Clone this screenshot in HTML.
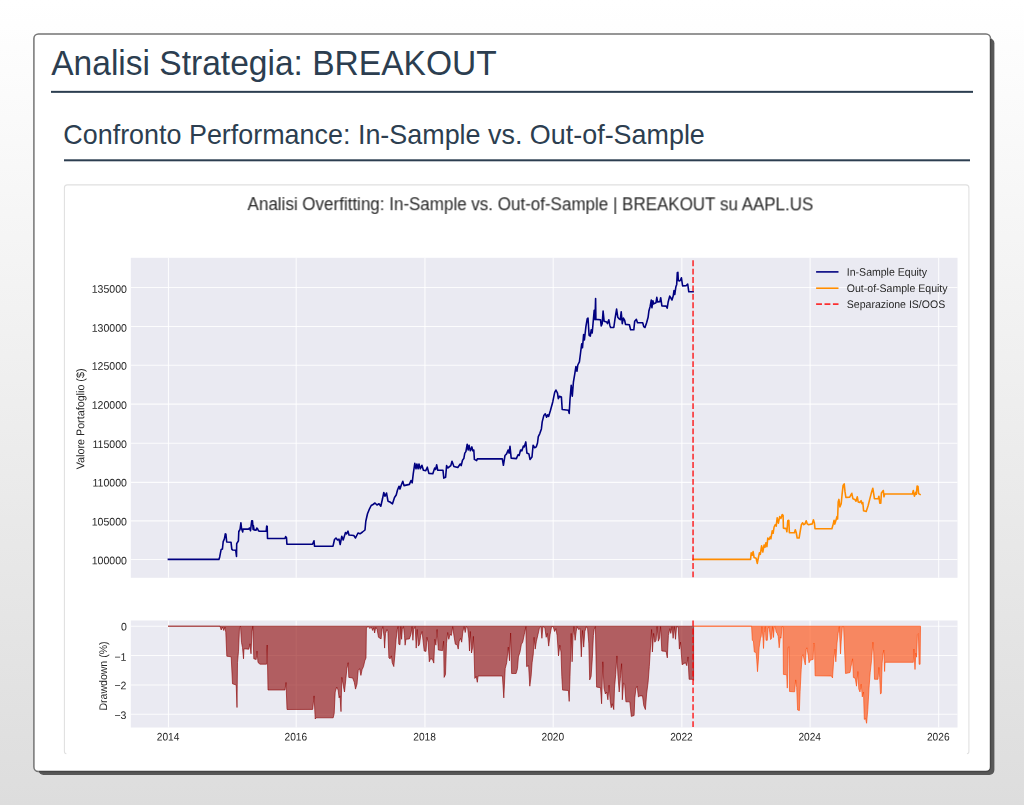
<!DOCTYPE html>
<html lang="it"><head><meta charset="utf-8"><title>Analisi Strategia: BREAKOUT</title>
<style>
html,body{margin:0;padding:0}
body{width:1024px;height:805px;overflow:hidden;position:relative;font-family:"Liberation Sans",sans-serif;background:linear-gradient(to bottom,#ffffff 0%,#dddddd 100%);color:#2c3e50}
h1{position:absolute;left:51.2px;top:43px;margin:0;font-weight:normal;font-size:33.55px;line-height:40px;white-space:nowrap;color:#2c3e50;transform-origin:0 31.5px;transform:translateY(0.9px) scaleY(1.042)}
.r1{position:absolute;left:51px;top:91px;width:922px;height:2px;background:#2c3e50}
h2{position:absolute;left:63.3px;top:118px;margin:0;font-weight:normal;font-size:26.91px;line-height:32px;white-space:nowrap;color:#2c3e50;transform-origin:0 25px;transform:translateY(0.7px) scaleY(1.042)}
.r2{position:absolute;left:64px;top:159px;width:906px;height:2px;background:#2c3e50}
</style></head><body>
<svg width="1024" height="805" viewBox="0 0 1024 805" style="position:absolute;left:0;top:0">
<defs><filter id="sb" x="-5%" y="-5%" width="110%" height="110%"><feGaussianBlur stdDeviation="0.35"/></filter></defs>
<rect x="38.5" y="38.2" width="955.9" height="736.8" rx="5" fill="#585858" filter="url(#sb)"/>
<rect x="33.9" y="34.0" width="956.6" height="737.5" rx="4.5" fill="#fff"/>
<path d="M990.5,38.5 L990.5,767.0 A4.5 4.5 0 0 1 986.0,771.5 L38.4,771.5" fill="none" stroke="#454545" stroke-width="1.4"/>
<path d="M38.4,771.5 A4.5 4.5 0 0 1 33.9,767.0 L33.9,38.5 A4.5 4.5 0 0 1 38.4,34.0 L986.0,34.0 A4.5 4.5 0 0 1 990.5,38.5" fill="none" stroke="#747474" stroke-width="1.5"/>
<path d="M66.4,753.8 Q64.4,753.8 64.4,751.3 L64.4,187.9 Q64.4,184.9 67.4,184.9 L965.9,184.9 Q968.9,184.9 968.9,187.9 L968.9,751.3 Q968.9,753.8 966.9,753.8" fill="none" stroke="#e0e0e0" stroke-width="1.1"/>
<rect x="51" y="90.85" width="922" height="2" fill="#2c3e50"/><rect x="64" y="159.3" width="906" height="2" fill="#2c3e50"/>
</svg>
<h1>Analisi Strategia: BREAKOUT</h1>
<h2>Confronto Performance: In-Sample vs. Out-of-Sample</h2>
<svg width="1024" height="805" viewBox="0 0 1024 805" style="position:absolute;left:0;top:0;filter:blur(0.3px)" font-family="Liberation Sans, sans-serif">
<rect x="130.8" y="257.8" width="826.7" height="319.99999999999994" fill="#eaeaf2"/>
<rect x="130.8" y="620.5" width="826.7" height="107.0" fill="#eaeaf2"/>
<g stroke="#fff" stroke-width="1.1" stroke-opacity="0.85" fill="none">
<line x1="168.45" y1="257.8" x2="168.45" y2="577.8"/><line x1="168.45" y1="620.5" x2="168.45" y2="727.5"/>
<line x1="296.20" y1="257.8" x2="296.20" y2="577.8"/><line x1="296.20" y1="620.5" x2="296.20" y2="727.5"/>
<line x1="424.95" y1="257.8" x2="424.95" y2="577.8"/><line x1="424.95" y1="620.5" x2="424.95" y2="727.5"/>
<line x1="553.20" y1="257.8" x2="553.20" y2="577.8"/><line x1="553.20" y1="620.5" x2="553.20" y2="727.5"/>
<line x1="681.85" y1="257.8" x2="681.85" y2="577.8"/><line x1="681.85" y1="620.5" x2="681.85" y2="727.5"/>
<line x1="810.10" y1="257.8" x2="810.10" y2="577.8"/><line x1="810.10" y1="620.5" x2="810.10" y2="727.5"/>
<line x1="938.65" y1="257.8" x2="938.65" y2="577.8"/><line x1="938.65" y1="620.5" x2="938.65" y2="727.5"/>
<line x1="130.8" y1="559.50" x2="957.5" y2="559.50"/>
<line x1="130.8" y1="520.85" x2="957.5" y2="520.85"/>
<line x1="130.8" y1="482.35" x2="957.5" y2="482.35"/>
<line x1="130.8" y1="443.20" x2="957.5" y2="443.20"/>
<line x1="130.8" y1="404.15" x2="957.5" y2="404.15"/>
<line x1="130.8" y1="365.30" x2="957.5" y2="365.30"/>
<line x1="130.8" y1="326.50" x2="957.5" y2="326.50"/>
<line x1="130.8" y1="287.45" x2="957.5" y2="287.45"/>
<line x1="130.8" y1="626.25" x2="957.5" y2="626.25"/>
<line x1="130.8" y1="655.50" x2="957.5" y2="655.50"/>
<line x1="130.8" y1="685.00" x2="957.5" y2="685.00"/>
<line x1="130.8" y1="714.20" x2="957.5" y2="714.20"/>
</g>
<polygon points="168.0,626.2 220.0,626.2 221.2,630.0 222.5,627.0 223.8,630.5 225.0,627.0 225.8,632.5 226.8,656.2 231.2,656.8 232.5,683.8 236.2,685.0 237.0,707.5 237.5,662.5 238.5,651.2 239.5,627.5 240.5,626.2 241.5,642.5 242.5,647.5 243.5,658.8 244.0,648.8 248.8,649.2 250.0,643.8 251.0,653.8 252.0,631.2 252.8,626.2 253.8,658.8 256.2,659.5 257.0,651.2 258.0,662.5 260.0,664.2 266.5,664.2 267.2,645.0 268.0,690.0 285.0,690.0 286.0,682.5 287.0,709.5 312.7,709.4 314.1,695.9 315.2,719.0 316.0,717.8 333.2,717.8 334.2,713.5 335.2,692.0 336.7,687.1 338.1,690.1 339.1,697.9 340.0,695.9 341.0,711.6 341.8,677.4 343.4,686.2 344.5,692.0 345.9,678.4 346.9,668.6 348.2,662.7 348.8,677.4 352.7,678.0 354.3,682.3 355.5,689.1 357.0,684.2 358.2,670.5 359.6,668.6 360.9,675.4 362.1,669.6 363.5,666.6 364.8,660.8 366.0,657.9 366.4,627.6 368.4,626.6 369.9,628.6 371.3,627.2 372.7,630.5 373.8,627.6 374.6,633.0 375.8,627.2 377.1,629.5 378.5,637.3 381.1,638.9 382.0,629.5 382.8,626.6 384.0,636.4 384.6,648.1 385.5,633.4 386.9,629.5 387.9,631.5 388.9,657.9 390.2,658.8 391.4,655.9 392.2,662.7 393.8,666.6 394.9,654.9 396.1,639.3 397.3,629.5 398.0,626.6 398.8,644.2 400.0,644.8 400.8,626.6 401.6,639.3 402.3,629.5 403.5,626.6 404.5,635.4 405.1,645.2 405.9,639.3 409.4,638.9 410.9,634.4 412.1,626.6 412.9,640.3 413.7,629.5 415.2,626.6 416.2,648.1 417.2,629.5 418.4,646.1 419.5,644.2 420.7,635.4 422.1,631.5 423.0,640.3 424.2,651.0 426.0,651.4 427.0,637.3 428.1,642.2 429.3,661.8 430.5,658.8 432.4,659.2 433.8,663.1 434.8,639.3 435.9,645.2 437.1,629.5 438.3,650.0 442.6,650.6 443.6,641.2 444.1,677.4 445.5,674.5 446.5,643.2 447.7,632.5 448.8,639.3 450.0,634.4 451.4,635.4 452.7,626.6 453.9,635.4 455.3,644.2 457.2,644.8 458.2,649.1 459.2,641.2 460.5,638.3 461.7,642.2 462.9,631.5 464.1,626.6 465.2,632.5 466.4,626.6 467.6,627.6 468.8,638.3 469.5,651.0 470.3,631.5 471.5,653.0 472.7,647.1 473.4,636.4 474.2,656.9 474.8,678.4 476.2,676.4 477.3,682.3 478.1,676.0 502.4,676.0 503.8,697.9 505.2,668.6 506.7,662.7 508.3,647.1 509.5,660.8 510.6,633.0 511.6,673.5 516.1,673.5 517.5,668.6 518.4,656.9 520.0,652.0 521.4,644.2 522.7,642.2 524.3,634.4 525.9,626.6 526.6,666.6 528.6,665.7 529.8,686.2 531.1,676.4 532.1,662.7 533.3,653.9 534.1,637.3 535.2,649.1 536.4,641.2 538.0,634.4 539.5,627.6 540.9,626.6 541.9,638.3 542.9,626.6 544.8,627.6 546.2,637.3 547.3,633.4 548.7,646.1 550.1,634.4 551.6,626.6 553.2,626.6 554.6,631.5 555.9,628.6 557.1,635.4 558.5,655.9 559.8,645.2 561.0,652.0 561.8,676.4 562.6,690.1 568.4,690.5 569.2,701.4 570.0,676.4 571.2,633.4 572.1,661.8 573.1,635.4 573.9,626.6 575.1,640.3 576.2,631.5 577.0,626.6 578.6,629.5 580.2,628.6 581.3,656.9 582.5,630.5 583.7,647.1 584.8,631.5 586.4,626.6 587.6,628.6 588.8,643.2 589.7,679.9 591.1,676.4 592.3,658.8 593.4,635.4 594.2,629.5 595.4,626.6 596.0,656.9 596.6,687.1 600.5,687.7 601.6,703.8 602.8,661.8 604.0,688.1 605.4,694.0 606.7,692.0 607.9,699.8 609.1,685.2 610.2,700.8 611.2,707.7 612.2,703.8 613.8,709.6 614.5,688.1 615.7,674.5 616.9,655.9 618.0,676.4 619.2,692.0 620.4,678.4 621.6,663.7 622.3,699.8 623.5,683.2 624.7,684.2 625.9,701.8 629.8,701.8 631.3,716.4 634.1,715.5 634.8,697.9 636.0,688.1 637.2,686.2 638.4,696.9 639.9,695.9 642.5,695.9 643.8,705.7 645.4,709.6 646.6,694.0 648.1,682.3 649.3,666.6 650.5,647.1 651.6,629.5 652.4,652.0 653.6,633.4 654.8,642.2 656.1,640.3 657.1,626.6 658.3,641.2 659.5,638.3 660.6,626.6 661.8,651.0 666.1,651.4 667.3,657.9 668.4,635.4 669.8,628.6 670.8,633.4 672.0,626.6 673.1,638.3 674.3,626.6 675.5,639.3 676.6,626.6 678.2,627.2 679.4,649.1 680.5,642.2 682.1,664.7 685.4,662.7 686.8,665.7 688.0,656.9 689.1,679.3 692.3,679.3 693.6,680.3 693.6,626.2" fill="#8b0000" fill-opacity="0.6" stroke="#8b0000" stroke-opacity="0.6" stroke-width="1.0" stroke-linejoin="round"/>
<polygon points="693.8,626.2 751.4,626.2 751.6,626.2 752.3,640.3 753.4,641.0 754.3,651.9 756.1,652.6 756.7,659.4 757.5,671.7 758.4,660.0 759.1,647.8 760.5,638.2 761.2,636.2 761.9,626.6 763.0,638.2 763.5,648.5 764.3,632.8 765.3,626.6 766.0,640.3 767.3,640.3 768.0,628.7 769.0,626.6 769.8,632.8 770.6,639.6 771.7,638.2 772.5,626.6 773.5,637.5 774.2,627.3 775.2,626.6 776.2,632.0 777.2,633.4 778.2,636.2 779.2,647.8 780.3,636.9 781.0,638.2 782.1,626.6 783.0,626.6 783.4,674.4 786.7,674.8 787.3,688.1 788.1,647.8 788.9,646.7 789.5,691.5 794.6,691.8 795.7,679.9 796.7,687.4 797.6,710.0 799.4,710.6 800.1,691.5 801.2,669.6 802.2,656.0 803.1,654.6 804.2,660.1 805.3,664.9 806.2,649.2 806.9,647.8 808.3,656.0 809.0,662.8 810.4,660.1 813.1,659.4 813.8,643.0 814.5,644.4 815.1,675.8 831.5,676.0 832.5,678.0 833.8,658.8 835.0,649.1 835.8,661.8 837.0,643.2 838.1,633.4 839.3,626.6 840.5,653.9 841.2,641.2 842.4,626.6 843.6,626.6 844.8,654.9 845.5,673.5 850.0,672.5 851.0,666.6 852.6,658.8 853.4,677.4 855.3,678.4 856.5,686.2 857.9,671.5 858.8,689.1 860.0,692.0 861.2,684.2 862.3,696.9 863.5,692.0 864.3,719.4 865.5,718.4 866.6,723.3 867.8,709.6 869.0,688.1 870.2,672.5 871.5,660.8 872.9,642.2 873.7,652.0 874.5,679.3 878.0,679.3 878.9,667.4 879.7,677.7 880.5,694.1 881.3,693.0 882.1,663.3 883.0,654.1 883.8,650.0 884.6,671.5 885.0,662.3 913.3,662.3 913.9,649.0 915.0,669.5 915.8,653.1 916.6,657.2 917.4,634.6 918.4,633.6 919.1,664.3 920.1,664.3 920.5,626.2" fill="#ff4500" fill-opacity="0.6" stroke="#ff4500" stroke-opacity="0.6" stroke-width="1.0" stroke-linejoin="round"/>
<polyline points="168.4,559.4 218.9,559.4 219.7,556.9 220.9,550.6 221.2,549.5 222.4,549.1 223.2,541.6 224.4,538.9 225.3,533.8 225.9,534.2 226.7,542.0 231.0,542.2 231.8,549.1 232.6,550.0 235.7,550.2 236.5,556.5 236.7,543.6 237.7,542.0 238.4,540.9 238.8,531.5 240.0,529.5 240.9,522.9 241.6,528.8 242.7,531.9 243.1,529.1 248.6,529.1 249.4,528.0 250.5,530.7 251.7,520.9 252.5,520.9 253.1,529.5 253.4,525.6 254.1,529.9 256.0,530.3 256.8,528.0 257.6,528.8 258.4,530.7 259.5,531.2 266.2,531.2 266.7,526.0 267.2,526.4 267.5,538.5 284.9,538.5 285.7,536.6 286.5,537.7 286.9,544.1 312.5,544.2 314.0,540.8 314.5,546.2 333.0,546.2 334.5,539.5 336.0,538.0 337.5,540.0 339.0,539.2 340.2,544.5 341.8,536.2 343.2,540.0 345.5,532.5 346.5,533.8 348.0,531.2 349.0,535.0 353.8,535.5 355.5,538.0 358.0,533.0 360.0,533.8 362.5,532.0 365.0,530.0 365.8,521.2 367.5,513.8 369.5,508.8 371.2,505.5 373.0,504.5 375.0,503.0 377.0,505.0 379.0,503.8 380.8,506.2 382.5,498.8 383.8,492.5 385.0,496.2 386.5,493.0 388.0,501.2 390.0,502.0 392.5,503.8 394.5,497.5 396.2,495.0 397.5,490.0 399.0,486.2 400.0,489.1 401.2,485.2 402.8,481.2 404.0,485.6 409.4,484.4 411.0,480.5 412.2,482.8 413.3,473.4 414.8,463.3 416.0,468.8 416.9,464.0 418.1,468.8 419.0,464.0 420.3,468.8 421.9,465.3 423.4,470.3 425.8,470.6 427.3,467.2 428.9,473.4 432.8,473.8 434.7,468.0 435.6,469.5 436.7,464.8 437.8,470.3 443.0,470.3 443.8,478.1 445.6,477.3 446.6,465.6 447.7,468.0 450.8,465.6 452.0,461.2 453.9,466.4 457.8,467.5 460.2,464.0 461.2,465.6 462.5,460.2 463.8,458.6 464.8,453.1 465.9,451.6 467.2,444.2 468.1,450.0 469.1,445.3 470.3,450.8 471.9,446.9 472.7,450.8 473.8,450.0 474.4,459.4 476.6,460.6 477.3,458.9 502.3,458.9 503.4,465.3 505.0,455.5 506.6,453.9 508.1,450.0 509.1,453.1 510.0,446.4 511.2,458.1 516.4,458.6 518.0,454.7 519.1,455.5 520.6,450.0 521.9,450.8 523.4,446.1 524.2,446.9 525.8,441.9 526.9,453.1 528.9,453.9 530.0,459.4 532.0,457.0 533.1,445.3 534.7,447.7 536.2,446.9 537.5,443.0 538.3,436.7 539.8,433.6 541.4,428.9 542.2,421.9 543.8,415.6 545.3,413.8 546.6,417.2 547.7,414.8 548.6,416.5 550.5,410.3 552.8,401.7 554.7,392.3 555.9,390.0 557.5,393.1 558.3,398.6 559.4,396.2 561.4,397.0 562.2,409.5 568.4,410.3 569.2,413.4 570.0,399.4 571.2,385.3 572.3,396.2 573.4,382.2 574.7,374.4 575.9,366.6 577.0,371.2 577.8,365.0 579.4,361.9 580.6,352.5 581.7,343.9 582.5,347.8 583.6,334.5 584.4,340.0 585.9,326.7 587.2,318.9 588.0,318.1 589.1,335.3 590.3,336.1 591.2,329.8 592.2,333.0 593.1,322.8 594.2,310.3 595.0,319.7 595.6,298.6 595.9,319.4 600.5,319.7 601.2,325.9 602.2,323.6 603.1,311.1 604.1,321.2 606.7,322.0 607.5,323.6 608.8,319.7 609.8,325.2 610.6,327.5 613.8,327.5 615.0,318.9 616.6,309.1 617.8,317.3 619.2,318.9 620.3,319.7 621.2,311.9 622.3,323.6 623.4,318.1 624.7,320.5 625.5,324.4 629.4,324.7 630.6,329.8 633.8,329.8 634.7,321.2 636.4,319.4 637.5,322.8 642.7,322.8 643.8,326.7 645.0,327.5 646.6,322.8 648.1,317.3 648.9,311.0 650.2,306.2 651.3,300.0 651.9,307.8 652.9,300.8 653.7,303.9 656.0,302.7 656.8,297.3 657.6,302.0 659.9,301.6 660.7,297.7 661.9,305.9 666.2,306.1 667.2,308.2 668.1,302.3 668.9,299.2 669.7,296.1 670.9,298.0 672.0,300.0 673.2,296.1 674.0,290.6 674.8,294.5 675.9,286.7 676.7,284.4 677.3,272.7 677.9,272.3 678.3,280.5 679.5,280.9 680.2,280.5 681.4,277.7 682.6,285.9 686.1,285.8 687.7,284.0 688.8,291.8 693.1,291.8" fill="none" stroke="#000080" stroke-width="1.59" stroke-linejoin="round" stroke-linecap="square"/>
<polyline points="693.1,559.4 750.6,559.4 751.2,552.8 752.2,555.2 753.1,551.6 754.1,557.5 756.1,558.3 757.3,563.4 758.4,557.5 759.4,552.8 760.3,554.4 761.6,545.8 762.8,552.0 764.1,545.0 765.0,547.3 765.9,542.7 766.9,546.6 767.8,538.0 769.1,539.5 770.2,536.9 770.9,538.8 772.2,530.9 773.1,533.3 774.1,527.0 775.3,524.7 776.2,526.2 777.2,517.7 778.4,523.1 779.7,516.6 780.9,518.4 782.2,514.5 783.1,515.3 783.4,528.1 786.2,528.6 786.9,531.7 787.8,520.8 788.8,520.3 789.4,532.8 794.4,532.8 795.3,529.7 796.2,532.5 797.2,538.0 799.1,538.0 800.3,530.9 801.4,524.7 802.5,522.8 803.8,524.7 805.0,523.9 806.2,520.8 807.3,523.9 808.4,524.7 812.3,523.9 813.4,519.7 814.4,523.1 815.0,528.6 831.9,528.8 833.2,524.1 834.1,520.3 834.8,524.1 836.1,519.7 837.0,516.5 837.6,519.0 838.2,501.9 838.9,499.4 839.9,507.0 841.2,503.8 842.1,494.3 843.1,485.4 844.2,483.9 845.0,491.7 845.9,497.5 849.7,497.1 850.9,494.9 851.8,493.3 852.9,498.7 854.8,499.4 856.0,501.2 857.3,496.8 858.2,501.9 859.8,502.5 861.1,500.6 862.0,503.8 862.8,502.5 863.6,510.8 866.2,511.4 868.1,505.7 870.0,498.1 871.2,493.6 872.8,488.2 873.8,494.3 874.4,498.7 878.2,498.7 878.9,496.2 879.8,503.2 880.8,503.2 881.4,493.0 883.3,490.5 884.0,496.8 884.6,494.0 912.5,494.0 913.3,490.5 914.4,496.2 915.7,492.4 916.3,494.3 917.1,486.0 918.0,486.4 918.6,493.6 920.1,494.5" fill="none" stroke="#ff8c00" stroke-width="1.59" stroke-linejoin="round" stroke-linecap="square"/>
<line x1="693.06" y1="577.8" x2="693.06" y2="257.8" stroke="#ff0000" stroke-opacity="0.8" stroke-width="1.59" stroke-dasharray="5.87 2.54" stroke-dashoffset="-0.5"/>
<line x1="693.06" y1="727.5" x2="693.06" y2="620.5" stroke="#ff0000" stroke-opacity="0.8" stroke-width="1.59" stroke-dasharray="5.87 2.54" stroke-dashoffset="-0.5"/>
<line x1="816.1" y1="271.9" x2="838.5" y2="271.9" stroke="#000080" stroke-width="1.59"/>
<line x1="816.1" y1="288.2" x2="838.5" y2="288.2" stroke="#ff8c00" stroke-width="1.59"/>
<line x1="816.1" y1="304.1" x2="838.5" y2="304.1" stroke="#ff0000" stroke-width="1.59" stroke-opacity="0.8" stroke-dasharray="5.87 2.54"/>
<g fill="#262626" opacity="0.995">
<text transform="translate(846.80,275.68) rotate(0.03) scale(1,1.04)" text-anchor="start" font-size="10.55">In-Sample Equity</text>
<text transform="translate(846.80,291.98) rotate(0.03) scale(1,1.04)" text-anchor="start" font-size="10.55">Out-of-Sample Equity</text>
<text transform="translate(846.80,307.88) rotate(0.03) scale(1,1.04)" text-anchor="start" font-size="10.55">Separazione IS/OOS</text>
<text transform="translate(126.90,564.38) rotate(0.03) scale(1,1.04)" text-anchor="end" font-size="10.55">100000</text>
<text transform="translate(126.90,525.53) rotate(0.03) scale(1,1.04)" text-anchor="end" font-size="10.55">105000</text>
<text transform="translate(126.90,486.48) rotate(0.03) scale(1,1.04)" text-anchor="end" font-size="10.55">110000</text>
<text transform="translate(126.90,448.08) rotate(0.03) scale(1,1.04)" text-anchor="end" font-size="10.55">115000</text>
<text transform="translate(126.90,408.88) rotate(0.03) scale(1,1.04)" text-anchor="end" font-size="10.55">120000</text>
<text transform="translate(126.90,369.83) rotate(0.03) scale(1,1.04)" text-anchor="end" font-size="10.55">125000</text>
<text transform="translate(126.90,331.78) rotate(0.03) scale(1,1.04)" text-anchor="end" font-size="10.55">130000</text>
<text transform="translate(126.90,292.88) rotate(0.03) scale(1,1.04)" text-anchor="end" font-size="10.55">135000</text>
<text transform="translate(126.90,630.48) rotate(0.03) scale(1,1.04)" text-anchor="end" font-size="10.55">0</text>
<text transform="translate(126.40,660.68) rotate(0.03) scale(1,1.04)" text-anchor="end" font-size="10.55">−1</text>
<text transform="translate(126.40,689.28) rotate(0.03) scale(1,1.04)" text-anchor="end" font-size="10.55">−2</text>
<text transform="translate(126.40,719.08) rotate(0.03) scale(1,1.04)" text-anchor="end" font-size="10.55">−3</text>
<text transform="translate(168.05,740.40) rotate(0.03) scale(1,1.04)" text-anchor="middle" font-size="10.55" textLength="22.6" lengthAdjust="spacingAndGlyphs">2014</text>
<text transform="translate(295.80,740.40) rotate(0.03) scale(1,1.04)" text-anchor="middle" font-size="10.55" textLength="22.6" lengthAdjust="spacingAndGlyphs">2016</text>
<text transform="translate(424.55,740.40) rotate(0.03) scale(1,1.04)" text-anchor="middle" font-size="10.55" textLength="22.6" lengthAdjust="spacingAndGlyphs">2018</text>
<text transform="translate(552.80,740.40) rotate(0.03) scale(1,1.04)" text-anchor="middle" font-size="10.55" textLength="22.6" lengthAdjust="spacingAndGlyphs">2020</text>
<text transform="translate(681.45,740.40) rotate(0.03) scale(1,1.04)" text-anchor="middle" font-size="10.55" textLength="22.6" lengthAdjust="spacingAndGlyphs">2022</text>
<text transform="translate(809.70,740.40) rotate(0.03) scale(1,1.04)" text-anchor="middle" font-size="10.55" textLength="22.6" lengthAdjust="spacingAndGlyphs">2024</text>
<text transform="translate(938.25,740.40) rotate(0.03) scale(1,1.04)" text-anchor="middle" font-size="10.55" textLength="22.6" lengthAdjust="spacingAndGlyphs">2026</text>
<text transform="translate(84.30,418.90) rotate(-89.97) scale(1,1.04)" text-anchor="middle" font-size="10.77">Valore Portafoglio ($)</text>
<text transform="translate(107.00,676.00) rotate(-89.97) scale(1,1.04)" text-anchor="middle" font-size="10.55">Drawdown (%)</text>
<text transform="translate(530.50,209.90) rotate(0.03) scale(1,1.04)" text-anchor="middle" font-size="17">Analisi Overfitting: In-Sample vs. Out-of-Sample | BREAKOUT su AAPL.US</text>
</g>
</svg>
</body></html>
